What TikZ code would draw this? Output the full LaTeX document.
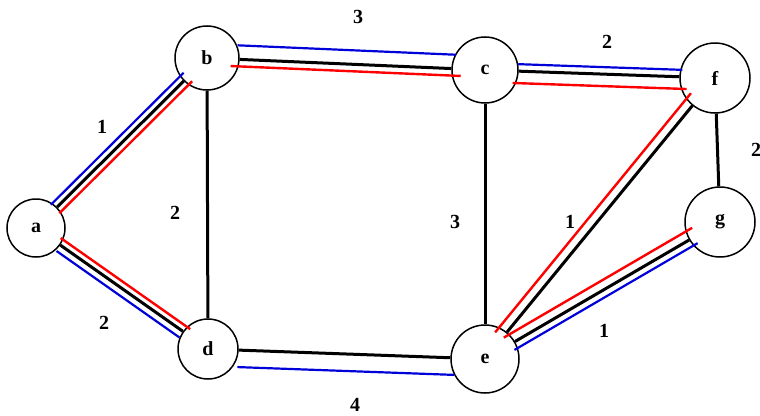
\documentclass[tikz,border=0pt]{standalone}
\usepackage{fontspec}
\setmainfont{Liberation Serif}
\usetikzlibrary{calc}
\begin{document}
\begin{tikzpicture}[x=1pt,y=-1pt,
  vtx/.style={circle,draw,line width=1.5pt,inner sep=0pt,font=\fontsize{20}{22}\selectfont\bfseries},
  edge/.style={line width=3pt},
  wlab/.style={font=\fontsize{20}{22}\selectfont\bfseries},
  bl/.style={blue!85!black,line width=2.2pt},
  rd/.style={red,line width=2.4pt}]
\useasboundingbox (0,0) rectangle (760,415);
\node[vtx,minimum size=58] (a) at (36,228) {a};
\node[vtx,minimum size=64] (b) at (207,58) {b};
\node[vtx,minimum size=66] (c) at (485,70) {c};
\node[vtx,minimum size=60] (d) at (208,349) {d};
\node[vtx,minimum size=68] (e) at (485,359) {e};
\node[vtx,minimum size=70] (f) at (715,78) {f};
\node[vtx,minimum size=70] (g) at (720,222) {g};
% black edges
\draw[edge] (a) -- (b);
\draw[edge] (b) -- (c);
\draw[edge] (c) -- (f);
\draw[edge] (b) -- (d);
\draw[edge] (c) -- (e);
\draw[edge] (a) -- (d);
\draw[edge] (d) -- (e);
\draw[edge] (e) -- (f);
\draw[edge] (e) -- (g);
\draw[edge] (f) -- (g);
% coloured offsets
\newcommand\offedge[5]{%
  \draw[#1,shorten <=#5,shorten >=#5] ($(#2)!#4!90:(#3)$) -- ($(#3)!#4!-90:(#2)$);}
\offedge{bl}{a}{b}{6pt}{27pt}
\offedge{rd}{a}{b}{-6pt}{27pt}
\offedge{bl}{b}{c}{14pt}{30pt}
\offedge{rd}{b}{c}{-7pt}{24pt}
\offedge{bl}{c}{f}{7pt}{33pt}
\offedge{rd}{c}{f}{-12pt}{28pt}
\offedge{rd}{a}{d}{6pt}{26pt}
\offedge{bl}{a}{d}{-7pt}{30pt}
\offedge{bl}{d}{e}{-17pt}{30pt}
\offedge{rd}{e}{f}{9pt}{27pt}
\offedge{rd}{e}{g}{9pt}{27pt}
\offedge{bl}{e}{g}{-7pt}{30pt}
% weights
\node[wlab] (w1) at (102,127) {1};
\node[wlab] (w2) at (358,17) {3};
\node[wlab] (w3) at (607,42) {2};
\node[wlab] (w4) at (756,150) {2};
\node[wlab] (w5) at (175,213) {2};
\node[wlab] (w6) at (455,222) {3};
\node[wlab] (w7) at (570,222) {1};
\node[wlab] (w8) at (604,331) {1};
\node[wlab] (w9) at (104,323) {2};
\node[wlab] (w10) at (355,405) {4};
\end{tikzpicture}
\end{document}
